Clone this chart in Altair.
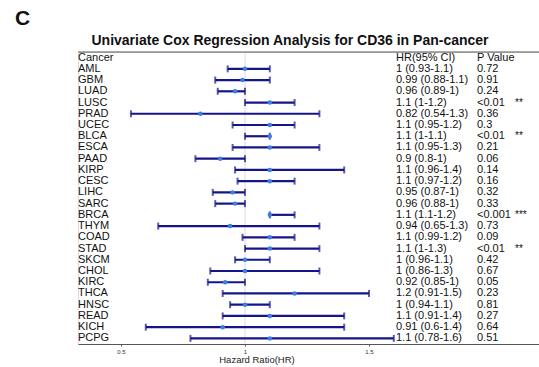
import altair as alt
import pandas as pd

# Univariate Cox regression results for CD36 across TCGA cancer types
cancers = ["AML", "GBM", "LUAD", "LUSC", "PRAD", "UCEC", "BLCA", "ESCA", "PAAD",
           "KIRP", "CESC", "LIHC", "SARC", "BRCA", "THYM", "COAD", "STAD", "SKCM",
           "CHOL", "KIRC", "THCA", "HNSC", "READ", "KICH", "PCPG"]
hr = [1, 0.99, 0.96, 1.1, 0.82, 1.1, 1.1, 1.1, 0.9, 1.1, 1.1, 0.95, 0.96,
      1.1, 0.94, 1.1, 1.1, 1, 1, 0.92, 1.2, 1, 1.1, 0.91, 1.1]
ci_low = [0.93, 0.88, 0.89, 1, 0.54, 0.95, 1, 0.95, 0.8, 0.96, 0.97, 0.87, 0.88,
          1.1, 0.65, 0.99, 1, 0.96, 0.86, 0.85, 0.91, 0.94, 0.91, 0.6, 0.78]
ci_high = [1.1, 1.1, 1, 1.2, 1.3, 1.2, 1.1, 1.3, 1, 1.4, 1.2, 1, 1,
           1.2, 1.3, 1.2, 1.3, 1.1, 1.3, 1, 1.5, 1.1, 1.4, 1.4, 1.6]
p_values = ["0.72", "0.91", "0.24", "<0.01", "0.36", "0.3", "<0.01", "0.21", "0.06",
            "0.14", "0.16", "0.32", "0.33", "<0.001", "0.73", "0.09", "<0.01", "0.42",
            "0.67", "0.05", "0.23", "0.81", "0.27", "0.64", "0.51"]
stars = ["", "", "", "**", "", "", "**", "", "", "", "", "", "",
         "***", "", "", "**", "", "", "", "", "", "", "", ""]
header = ["Cancer", "HR(95% CI)", "P Value"]
x_ticks = [0.5, 1, 1.5]

df = pd.DataFrame({
    "row": cancers, "hr": hr, "lo": ci_low, "hi": ci_high,
    "p": p_values, "star": stars,
})
df["hr_text"] = [f"{h:g} ({l:g}-{u:g})" for h, l, u in zip(hr, ci_low, ci_high)]

W, H = 461, 292
row_order = [header[0]] + cancers

x_scale = alt.Scale(domain=[0.3266, 2.1855], nice=False, zero=False)
y_scale = alt.Scale(domain=row_order, type="point", padding=0.5)

X = alt.X("lo:Q", scale=x_scale,
          axis=alt.Axis(values=x_ticks, format="~g", title=None, grid=False,
                        labelFontSize=6, labelColor="#333333", tickSize=2,
                        tickColor="#555555", domainColor="#555555", domainWidth=1,
                        labelPadding=2))
Y = alt.Y("row:N", scale=y_scale, axis=None)

base = alt.Chart(df)

ref = alt.Chart(pd.DataFrame({"v": [1]})).mark_rule(color="#dcdcdc", strokeWidth=1).encode(
    x=alt.X("v:Q", scale=x_scale), y=alt.value(0), y2=alt.value(H))

top_line = alt.Chart(pd.DataFrame({"v": [0]})).mark_rule(color="#555555", strokeWidth=1).encode(
    x=alt.value(0), x2=alt.value(W), y=alt.value(0))

bars = base.mark_rule(color="#15158a", strokeWidth=2.2).encode(x=X, x2="hi:Q", y=Y)
cap_lo = base.mark_tick(color="#15158a", size=7, thickness=2).encode(
    x=alt.X("lo:Q", scale=x_scale), y=Y)
cap_hi = base.mark_tick(color="#15158a", size=7, thickness=2).encode(
    x=alt.X("hi:Q", scale=x_scale), y=Y)
points = base.mark_circle(color="#3a7fe3", opacity=1, size=20).encode(
    x=alt.X("hr:Q", scale=x_scale), y=Y)

txt = dict(fontSize=11, color="#111111", baseline="middle", align="left")
name_col = base.mark_text(**txt).encode(x=alt.value(0), y=Y, text="row:N")
hr_col = base.mark_text(**txt).encode(x=alt.value(318), y=Y, text="hr_text:N")
p_col = base.mark_text(**txt).encode(x=alt.value(399), y=Y, text="p:N")
star_col = base.mark_text(fontSize=10, color="#111111", baseline="middle", align="left").encode(
    x=alt.value(437), y=Y, text="star:N")

head_df = pd.DataFrame({"row": [header[0]] * 3, "label": header, "px": [0, 318, 399]})
head = alt.Chart(head_df).mark_text(**txt).encode(
    x=alt.X("px:Q", scale=None), y=Y, text="label:N")

title = alt.Chart(pd.DataFrame({"t": ["Univariate Cox Regression Analysis for CD36 in Pan-cancer"]})).mark_text(
    fontSize=14, fontWeight="bold", color="#111111", align="center", baseline="alphabetic").encode(
    x=alt.value(212), y=alt.value(-7), text="t:N")

panel = alt.Chart(pd.DataFrame({"t": ["C"]})).mark_text(
    fontSize=21, fontWeight="bold", color="#111111", align="left", baseline="alphabetic").encode(
    x=alt.value(-63), y=alt.value(-27), text="t:N")

x_title = alt.Chart(pd.DataFrame({"t": ["Hazard Ratio(HR)"]})).mark_text(
    fontSize=9.5, color="#222222", align="center", baseline="middle").encode(
    x=alt.value(179), y=alt.value(H + 16), text="t:N")

chart = alt.layer(
    ref, top_line, bars, cap_lo, cap_hi, points,
    name_col, hr_col, p_col, star_col, head, title, panel, x_title,
).properties(
    width=W, height=H,
    autosize=alt.AutoSizeParams(type="none"),
    padding={"left": 78, "top": 52, "right": 0, "bottom": 23},
).configure_view(stroke=None).configure(font="Liberation Sans", background="white")

chart.save("out.html", embed_options={"renderer": "svg", "actions": False})
